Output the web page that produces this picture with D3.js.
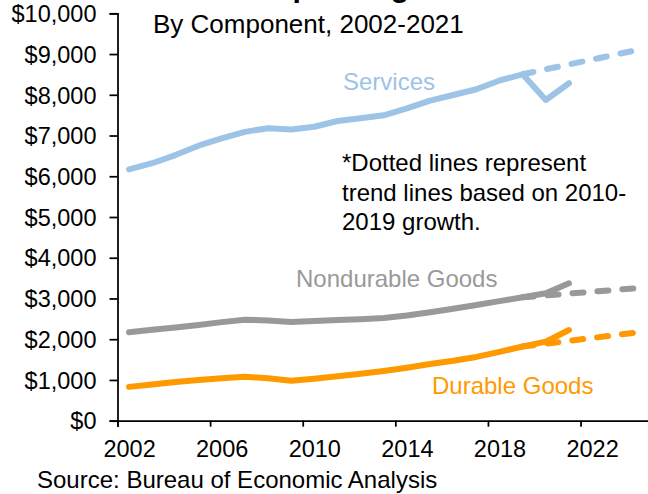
<!DOCTYPE html>
<html>
<head>
<meta charset="utf-8">
<script src="https://cdn.jsdelivr.net/npm/d3@7"></script>
<style>
  body { margin: 0; background: #fff; }
  text { font-family: "Liberation Sans", Arial, sans-serif; }
</style>
</head>
<body>
<div id="chart"></div>
<script>
// data (billions of chained dollars)
const years      = [2002, 2003, 2004, 2005, 2006, 2007, 2008, 2009, 2010, 2011, 2012, 2013, 2014, 2015, 2016, 2017, 2018, 2019, 2020, 2021];
const services   = [6170, 6320, 6520, 6750, 6930, 7090, 7180, 7150, 7216, 7357, 7423, 7497, 7668, 7855, 7995, 8135, 8350, 8503, 7872, 8282];
const nondurable = [2170, 2230, 2290, 2350, 2420, 2480, 2460, 2420, 2450, 2470, 2490, 2520, 2580, 2660, 2750, 2840, 2935, 3030, 3127, 3372];
const durable    = [ 830,  890,  950, 1000, 1040, 1080, 1040,  980, 1030, 1090, 1150, 1220, 1300, 1390, 1470, 1565, 1690, 1822, 1940, 2226];

// trend lines (dotted)
const trendYears    = [2019, 2020, 2021, 2022, 2023, 2024];
const servicesTrend = [8503, 8625, 8745, 8865, 8985, 9105];
const nondurTrend   = [3030, 3075, 3120, 3165, 3210, 3255];
const durTrend      = [1822, 1890, 1960, 2030, 2100, 2170];

const yTicks = [0, 1000, 2000, 3000, 4000, 5000, 6000, 7000, 8000, 9000, 10000];
const xTicks = [2002, 2006, 2010, 2014, 2018, 2022];

const width = 648, height = 494;
const svg = d3.select("#chart").append("svg")
    .attr("width", width)
    .attr("height", height);

// x is a category axis: ticks sit on year boundaries, points in the middle
const x = d3.scaleLinear().domain([2002, 2025]).range([117.5, 650]);
const y = d3.scaleLinear().domain([0, 10000]).range([420.7, 13.3]);
const half = (x(2003) - x(2002)) / 2;

// title (cut off at the top of the picture, as in the original)
svg.append("text")
    .attr("x", 44).attr("y", -3)
    .attr("font-size", 30).attr("font-weight", "bold")
    .text("Real Consumer Spending");

svg.append("text")
    .attr("x", 153).attr("y", 33)
    .attr("font-size", 26)
    .text("By Component, 2002-2021");

// axes
const yAxis = svg.append("g")
    .attr("transform", "translate(" + x(2002) + ",0)")
    .call(d3.axisLeft(y).tickValues(yTicks).tickSize(8).tickPadding(13)
        .tickFormat(d => "$" + d3.format(",")(d)));

const xAxis = svg.append("g")
    .attr("transform", "translate(0," + y(0) + ")")
    .call(d3.axisBottom(x).tickValues(xTicks).tickSize(6).tickPadding(14)
        .tickFormat(d3.format("d")));

xAxis.selectAll(".tick text").attr("dx", half);

[yAxis, xAxis].forEach(g => {
    g.select(".domain").attr("stroke", "#000").attr("stroke-width", 1.75);
    g.selectAll(".tick line").attr("stroke", "#000").attr("stroke-width", 1.75);
    g.selectAll(".tick text").attr("font-size", 23.5).attr("fill", "#000")
        .attr("font-family", "'Liberation Sans', Arial, sans-serif");
});
yAxis.selectAll(".tick text").attr("dy", "0.35em");

const line = d3.line()
    .x(d => x(d[0] + 0.5))
    .y(d => y(d[1]));

const series = [
    { vals: services,   trend: servicesTrend, color: "#9dc3e6" },
    { vals: nondurable, trend: nondurTrend,   color: "#999999" },
    { vals: durable,    trend: durTrend,      color: "#ff9900" }
];

series.forEach(s => {
    svg.append("path")
        .datum(trendYears.map((yr, i) => [yr, s.trend[i]]))
        .attr("d", line)
        .attr("fill", "none")
        .attr("stroke", s.color)
        .attr("stroke-width", 6)
        .attr("stroke-linecap", "round")
        .attr("stroke-dasharray", "11,14");

    svg.append("path")
        .datum(years.map((yr, i) => [yr, s.vals[i]]))
        .attr("d", line)
        .attr("fill", "none")
        .attr("stroke", s.color)
        .attr("stroke-width", 6)
        .attr("stroke-linejoin", "round")
        .attr("stroke-linecap", "round");
});

// series labels
svg.append("text").attr("x", 343).attr("y", 90)
    .attr("font-size", 24).attr("fill", "#9dc3e6").text("Services");
svg.append("text").attr("x", 296).attr("y", 287)
    .attr("font-size", 24).attr("fill", "#999999").text("Nondurable Goods");
svg.append("text").attr("x", 432).attr("y", 394)
    .attr("font-size", 24).attr("fill", "#ff9900").text("Durable Goods");

// note
const note = ["*Dotted lines represent", "trend lines based on 2010-", "2019 growth."];
svg.append("g").selectAll("text")
    .data(note)
    .join("text")
    .attr("x", 342)
    .attr("y", (d, i) => 171 + i * 29.5)
    .attr("font-size", 24)
    .text(d => d);

svg.append("text")
    .attr("x", 37).attr("y", 488)
    .attr("font-size", 24)
    .text("Source: Bureau of Economic Analysis");
</script>
</body>
</html>
